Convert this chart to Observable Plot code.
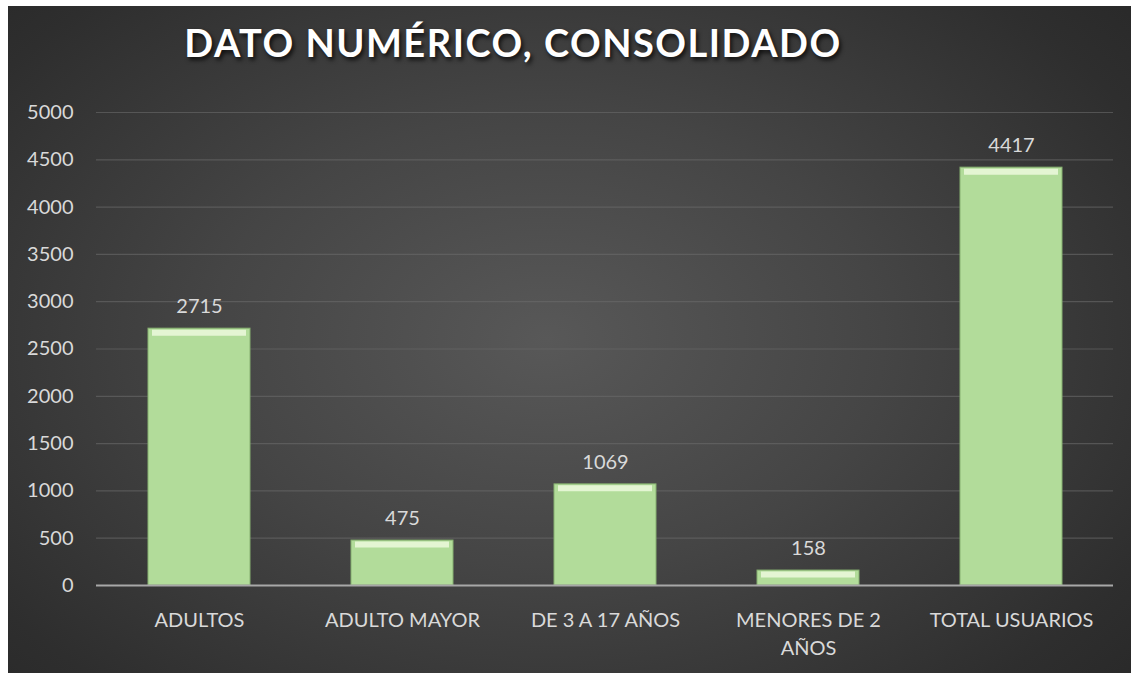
<!DOCTYPE html>
<html>
<head>
<meta charset="utf-8">
<script src="https://cdn.jsdelivr.net/npm/d3@7"></script>
<script src="https://cdn.jsdelivr.net/npm/@observablehq/plot@0.6"></script>
<style>
  html, body { margin: 0; padding: 0; background: #ffffff; }
  #frame {
    position: absolute; left: 8px; top: 6px; width: 1123px; height: 667px;
    background: radial-gradient(ellipse 75% 85% at 48% 50%, #585858 0%, #454545 40%, #2e2e2e 80%, #262626 100%);
    overflow: hidden;
  }
  #title {
    position: absolute; left: 0; top: 13px; width: 1010px; text-align: center;
    font-family: Lato, "Open Sans", sans-serif; font-weight: 700; font-size: 38px;
    letter-spacing: 1.5px; color: #ffffff;
    text-shadow: 2px 3px 4px rgba(0,0,0,0.75);
  }
  #chart { position: absolute; left: 0; top: 0; }
</style>
</head>
<body>
<div id="frame">
  <div id="title">DATO NUMÉRICO, CONSOLIDADO</div>
  <div id="chart"></div>
</div>
<script>
const categories = ["ADULTOS", "ADULTO MAYOR", "DE 3 A 17 AÑOS", "MENORES DE 2 AÑOS", "TOTAL USUARIOS"];
const values = [2715, 475, 1069, 158, 4417];
const yTicks = [0, 500, 1000, 1500, 2000, 2500, 3000, 3500, 4000, 4500, 5000];
const xLabels = {"MENORES DE 2 AÑOS": "MENORES DE 2\nAÑOS"};

const data = categories.map((c, i) => ({category: c, value: values[i]}));

const chart = Plot.plot({
  width: 1123,
  height: 667,
  marginTop: 106,
  marginBottom: 88,
  marginLeft: 88,
  marginRight: 18,
  style: {background: "transparent", fontFamily: "Lato, 'Open Sans', sans-serif", fontSize: "20px", color: "#d9d9d9"},
  x: {domain: categories, paddingInner: 0.5, paddingOuter: 0.25, label: null},
  y: {domain: [0, 5000], label: null},
  marks: [
    Plot.gridY(yTicks, {stroke: "#6a6a6a", strokeOpacity: 0.6, strokeWidth: 1.2}),
    Plot.axisY(yTicks, {tickSize: 0, tickPadding: 23, fill: "#d9d9d9", fontSize: 20, label: null, tickFormat: d => String(d)}),
    Plot.barY(data, {x: "category", y: "value", fill: "#b2dc9a", stroke: "#86b070", strokeWidth: 1}),
    Plot.tickY(data, {x: "category", y: "value", stroke: "#e4f5d3", strokeWidth: 6, dy: 4, insetLeft: 4, insetRight: 4}),
    Plot.ruleY([0], {stroke: "#a8a8a8", strokeWidth: 2}),
    Plot.text(data, {x: "category", y: "value", text: d => String(d.value), dy: -22, fill: "#d9d9d9", fontSize: 20}),
    Plot.axisX(categories, {tickSize: 0, tickPadding: 22, fill: "#d9d9d9", fontSize: 20, label: null, lineHeight: 1.4,
      tickFormat: d => xLabels[d] || d})
  ]
});
document.getElementById("chart").appendChild(chart);
</script>
</body>
</html>
